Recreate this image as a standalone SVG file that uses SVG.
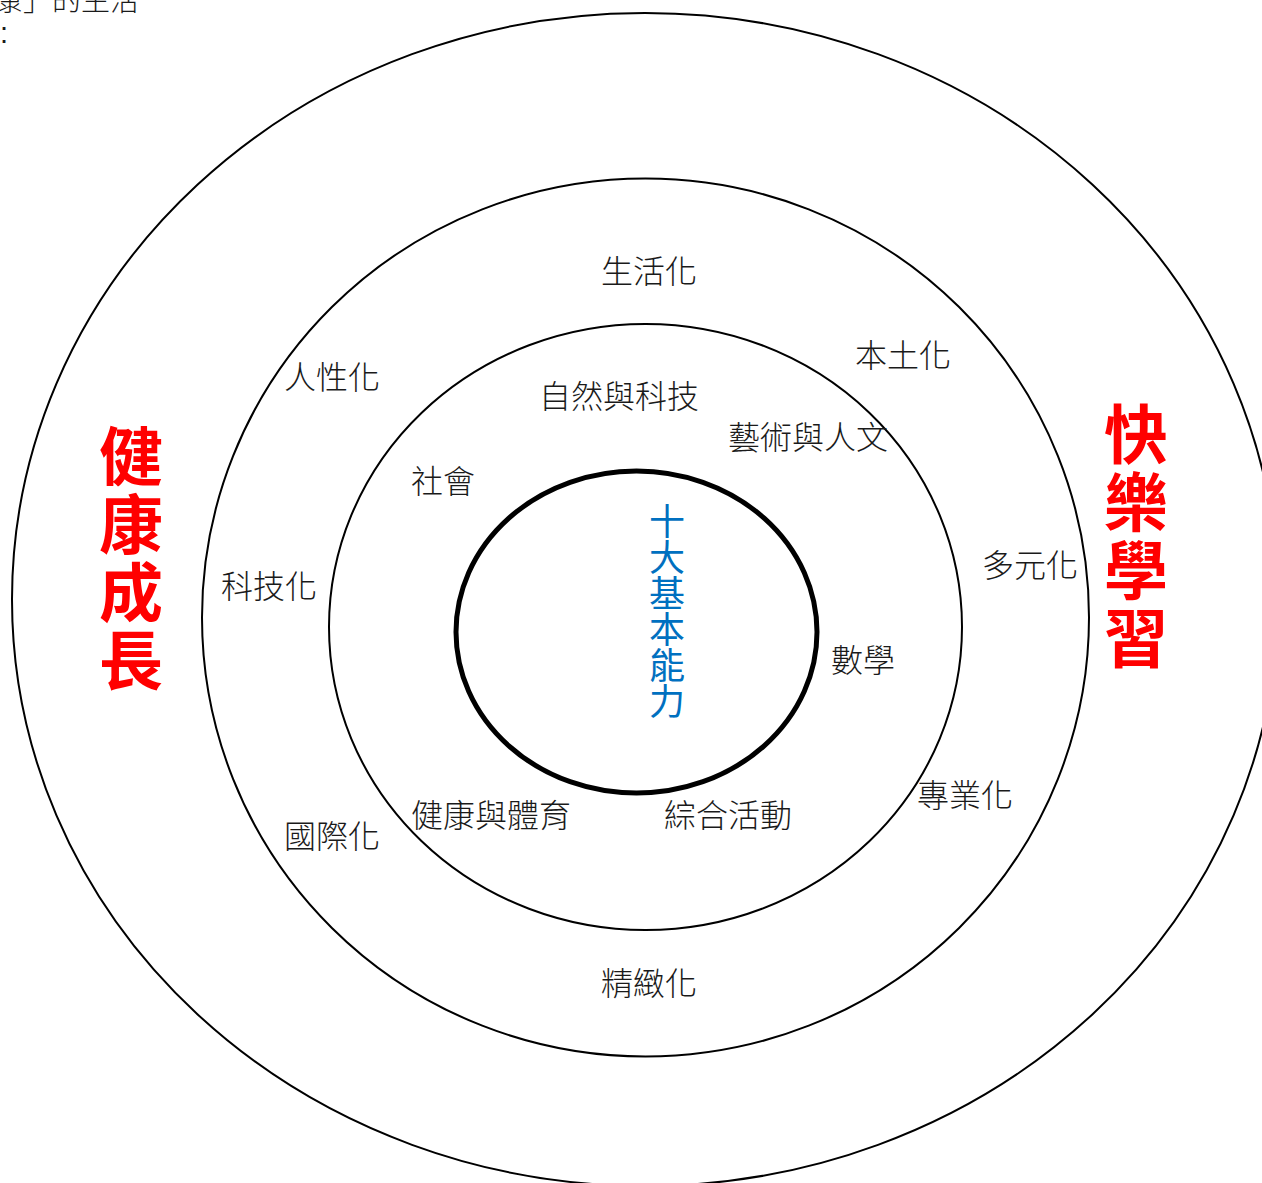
<svg xmlns="http://www.w3.org/2000/svg" width="1262" height="1183" viewBox="0 0 1262 1183">
<style>
.ring{fill:none;stroke:#000;stroke-width:2}
.core{fill:none;stroke:#000;stroke-width:5}
.lbl{font-family:"Noto Sans CJK TC","Noto Sans CJK SC",sans-serif;font-size:32px;font-weight:300;fill:#1a1a1a}
.vert{writing-mode:vertical-rl;text-orientation:upright}
.red{font-family:"Noto Sans CJK TC","Noto Sans CJK SC",sans-serif;font-size:64px;font-weight:700;fill:#ff0000;letter-spacing:4px}
.blue{font-family:"Noto Sans CJK TC","Noto Sans CJK SC",sans-serif;font-size:36px;font-weight:400;fill:#0070c0}
</style>
<rect width="1262" height="1183" fill="#fff"/>
<text x="-6" y="11" class="lbl" style="font-size:29px">康」的生活</text>
<text x="0" y="43" style="font-family:'Liberation Sans',sans-serif;font-size:29px;fill:#1a1a1a">:</text>
<g id="rings">
<ellipse id="ring-outer" class="ring" cx="645" cy="599.5" rx="633" ry="586.5"/>
<ellipse id="ring-second" class="ring" cx="645.5" cy="617.5" rx="443.5" ry="439"/>
<ellipse id="ring-third" class="ring" cx="645.5" cy="627" rx="316.5" ry="303"/>
<ellipse id="ring-core" class="core" cx="636.5" cy="632" rx="180.5" ry="161"/>
</g>
<g id="core-label">
<text class="blue vert" x="667" y="503">十大基本能力</text>
</g>
<g id="left-label">
<text class="red vert" x="131" y="424">健康成長</text>
</g>
<g id="right-label">
<text class="red vert" x="1136" y="402">快樂學習</text>
</g>
<g id="second-ring-labels">
<text class="lbl" x="601" y="283">生活化</text>
<text class="lbl" x="855" y="367">本土化</text>
<text class="lbl" x="284" y="389">人性化</text>
<text class="lbl" x="982" y="577">多元化</text>
<text class="lbl" x="221" y="598">科技化</text>
<text class="lbl" x="917" y="807">專業化</text>
<text class="lbl" x="284" y="848">國際化</text>
<text class="lbl" x="601" y="995">精緻化</text>
</g>
<g id="third-ring-labels">
<text class="lbl" x="539" y="408">自然與科技</text>
<text class="lbl" x="728" y="449">藝術與人文</text>
<text class="lbl" x="411" y="493">社會</text>
<text class="lbl" x="831" y="672">數學</text>
<text class="lbl" x="411" y="827">健康與體育</text>
<text class="lbl" x="664" y="827">綜合活動</text>
</g>
</svg>
